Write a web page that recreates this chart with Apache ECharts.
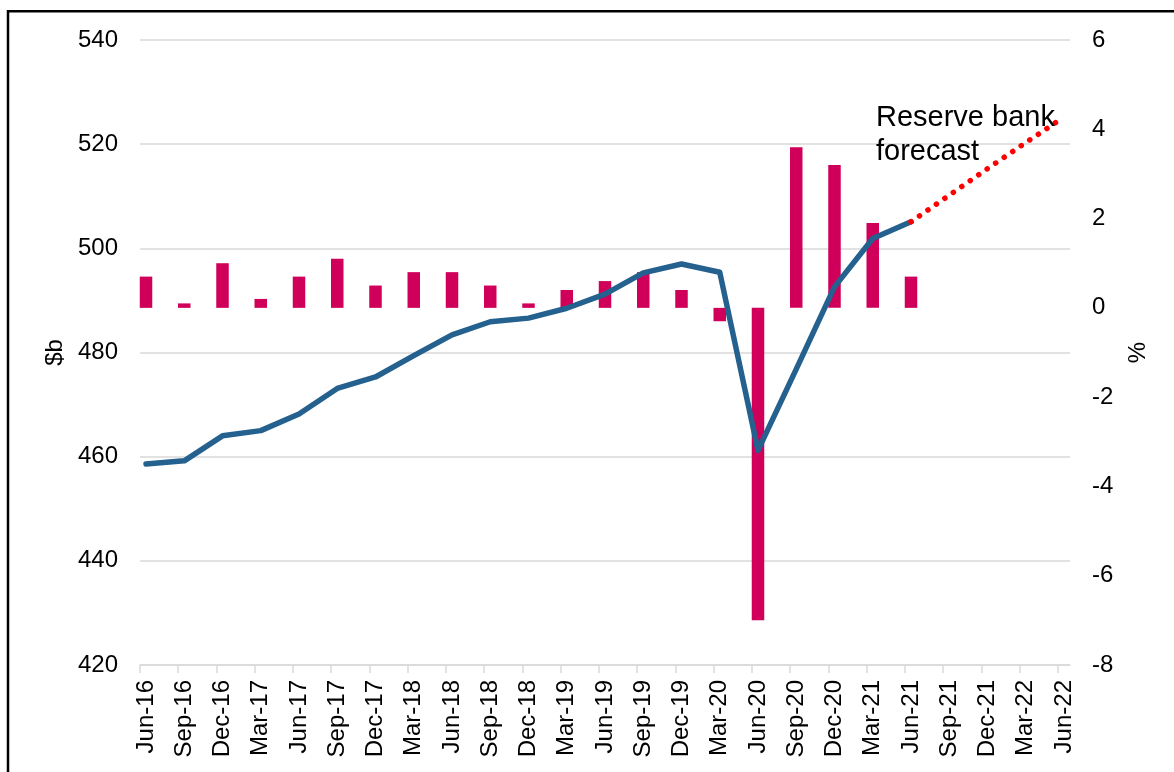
<!DOCTYPE html>
<html>
<head>
<meta charset="utf-8">
<script src="https://cdn.jsdelivr.net/npm/echarts@6/dist/echarts.min.js"></script>
<style>
  html, body { margin: 0; padding: 0; background: #fff; }
  #myChart { width: 1174px; height: 772px; }
</style>
</head>
<body>
<div id="myChart"></div>
<script>
// quarters on the x axis
const categories = [
  'Jun-16', 'Sep-16', 'Dec-16', 'Mar-17', 'Jun-17', 'Sep-17', 'Dec-17', 'Mar-18',
  'Jun-18', 'Sep-18', 'Dec-18', 'Mar-19', 'Jun-19', 'Sep-19', 'Dec-19', 'Mar-20',
  'Jun-20', 'Sep-20', 'Dec-20', 'Mar-21', 'Jun-21', 'Sep-21', 'Dec-21', 'Mar-22', 'Jun-22'
]
// quarterly growth, % (right axis), Jun-16 .. Jun-21
const growth = [0.7, 0.1, 1.0, 0.2, 0.7, 1.1, 0.5, 0.8, 0.8, 0.5, 0.1, 0.4, 0.6, 0.8, 0.4, -0.3, -7.0, 3.6, 3.2, 1.9, 0.7]
// GDP level, $b (left axis), Jun-16 .. Jun-21
const gdp = [458.6, 459.2, 464.0, 465.0, 468.2, 473.1, 475.3, 479.4, 483.4, 485.9, 486.6, 488.5, 491.2, 495.3, 497.0, 495.4, 461.2, 476.8, 492.6, 501.9, 505.1]
// reserve bank forecast, $b, Jun-21 .. Jun-22
const forecastStart = 20
const forecast = [505.1, 510.2, 515.3, 520.3, 525.2]

const leftTicks = { min: 420, max: 540, interval: 20 }
const rightTicks = { min: -8, max: 6, interval: 2 }

// the excel axis puts its tick marks a little left of each point
const edge = 0.157
const font = 'Liberation Sans, Arial, sans-serif'

const myChart = echarts.init(document.getElementById('myChart'))

myChart.setOption({
  animation: false,
  backgroundColor: '#fff',
  textStyle: { fontFamily: font },
  grid: { left: 140, right: 104, top: 40, bottom: 107 },
  xAxis: {
    type: 'value',
    min: -edge,
    max: categories.length - 1 + edge,
    splitLine: { show: false },
    axisLine: { show: true, onZero: false, lineStyle: { color: '#d9d9d9', width: 1.5 } },
    axisTick: {
      show: true,
      length: 8,
      lineStyle: { color: '#d9d9d9', width: 1.5 },
      customValues: categories.map((c, i) => i - edge)
    },
    axisLabel: {
      rotate: 90,
      margin: 15,
      fontSize: 24,
      color: '#000',
      fontFamily: font,
      customValues: categories.map((c, i) => i),
      formatter: v => categories[Math.round(v)] || ''
    }
  },
  yAxis: [
    {
      type: 'value',
      min: leftTicks.min,
      max: leftTicks.max,
      interval: leftTicks.interval,
      name: '$b',
      nameLocation: 'middle',
      nameGap: 71,
      nameRotate: 90,
      nameTextStyle: { fontSize: 24, color: '#000', fontFamily: font },
      axisLine: { show: false },
      axisTick: { show: false },
      axisLabel: { fontSize: 24, color: '#000', margin: 22, fontFamily: font },
      splitLine: { show: true, lineStyle: { color: '#d9d9d9', width: 1.5 } }
    },
    {
      type: 'value',
      position: 'right',
      min: rightTicks.min,
      max: rightTicks.max,
      interval: rightTicks.interval,
      name: '%',
      nameLocation: 'middle',
      nameGap: 56,
      nameRotate: 90,
      nameTextStyle: { fontSize: 24, color: '#000', fontFamily: font },
      axisLine: { show: false },
      axisTick: { show: false },
      axisLabel: { fontSize: 24, color: '#000', margin: 22, fontFamily: font },
      splitLine: { show: false }
    }
  ],
  series: [
    {
      name: 'growth',
      type: 'bar',
      yAxisIndex: 1,
      barWidth: 12.5,
      itemStyle: { color: '#d0005a' },
      data: growth.map((v, i) => [i, v]),
      z: 2
    },
    {
      name: 'gdp',
      type: 'line',
      yAxisIndex: 0,
      symbol: 'none',
      lineStyle: { color: '#25618f', width: 5.5, join: 'round', cap: 'round' },
      data: gdp.map((v, i) => [i, v]),
      z: 3
    },
    {
      name: 'forecast',
      type: 'line',
      yAxisIndex: 0,
      symbol: 'none',
      lineStyle: { color: '#ff0000', width: 5.5, type: [0.1, 10.2], cap: 'round' },
      data: forecast.map((v, i) => [forecastStart + i, v]),
      z: 3
    }
  ],
  graphic: [
    {
      type: 'rect',
      shape: { x: 8, y: 11.3, width: 1300, height: 900 },
      style: { fill: 'none', stroke: '#000', lineWidth: 2.5 },
      silent: true
    },
    {
      type: 'text',
      left: 876,
      top: 101,
      style: {
        text: 'Reserve bank\nforecast',
        font: '29px ' + font,
        lineHeight: 34,
        fill: '#000'
      },
      z: 10
    }
  ]
})
</script>
</body>
</html>
